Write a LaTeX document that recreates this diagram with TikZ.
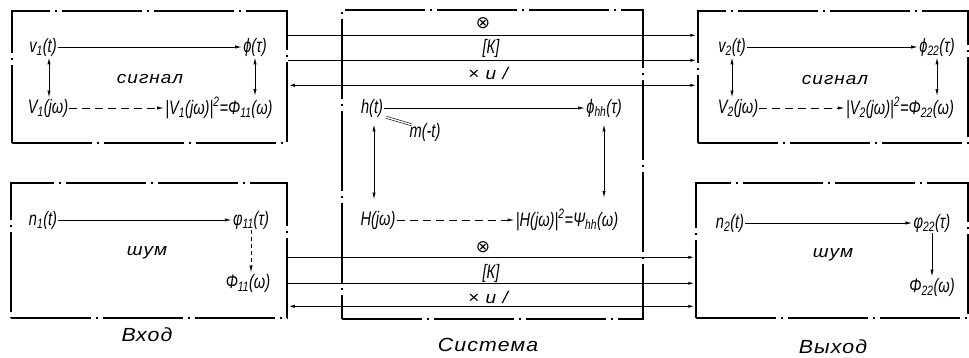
\documentclass[tikz,border=0pt]{standalone}
\usepackage{fontspec}
\setmainfont{Liberation Sans}[FakeStretch=0.75]
\newfontfamily\capfont{Liberation Sans}[FakeStretch=1.12, LetterSpace=6]
\newfontfamily\symfont{DejaVu Sans}
\usetikzlibrary{arrows.meta}
\newcommand{\lo}[1]{\textsubscript{#1}}

\begin{document}
\begin{tikzpicture}[x=1pt,y=-1pt,
  every node/.style={font=\fontsize{19.5}{21}\selectfont\itshape, inner sep=1pt},
  frame/.style={draw, line width=1.5pt, dash pattern=on 80pt off 5pt on 2pt off 5pt, inner sep=0pt},
  flow/.style={-{Latex[length=7pt,width=3.2pt]}, line width=0.9pt},
  both/.style={{Latex[length=7pt,width=3.2pt]}-{Latex[length=7pt,width=3.2pt]}, line width=0.9pt},
  dflow/.style={flow, dash pattern=on 8pt off 5pt},
  chan/.style={line width=1.3pt},
  wide/.style={font=\capfont\fontsize{17}{19}\selectfont\itshape},
  caption/.style={font=\capfont\fontsize{19}{21}\selectfont\itshape}
]
\useasboundingbox (0,0) rectangle (969,357);

% five dash-dot frames
\node[frame, minimum width=275pt, minimum height=132pt] (inS)  at (149.5,77)  {};
\node[frame, minimum width=276pt, minimum height=135pt] (inN)  at (149,250.5) {};
\node[frame, minimum width=301pt, minimum height=309pt] (sys)  at (492.5,164.5) {};
\node[frame, minimum width=270pt, minimum height=132pt] (outS) at (833,77)   {};
\node[frame, minimum width=272pt, minimum height=135pt] (outN) at (832,250.5) {};

% channels through the system (upper group)
\draw[chan,-{Latex[length=7pt,width=3.2pt]}] ([yshift=-25pt]inS.north east) -- ([yshift=-25pt]outS.north west);
\draw[chan,-{Latex[length=7pt,width=3.2pt]}] ([yshift=-50pt]inS.north east) -- ([yshift=-50pt]outS.north west);
\draw[chan,{Latex[length=7pt,width=3.2pt]}-{Latex[length=7pt,width=3.2pt]}] ([yshift=-75pt]inS.north east) -- ([yshift=-75pt]outS.north west);
\node (xu) at (483,23) {\symfont\fontsize{17}{19}\selectfont ⊗};
\node (ku) at (491,48) {[К]};
\node[wide] (mu) at (488,73) {× и /};

% channels through the system (lower group)
\draw[chan,-{Latex[length=7pt,width=3.2pt]}] ([yshift=-75pt]inN.north east) -- ([yshift=-75pt]outN.north west);
\draw[chan,-{Latex[length=7pt,width=3.2pt]}] ([yshift=-101pt]inN.north east) -- ([yshift=-101pt]outN.north west);
\draw[chan,{Latex[length=7pt,width=3.2pt]}-{Latex[length=7pt,width=3.2pt]}] ([yshift=-124pt]inN.north east) -- ([yshift=-124pt]outN.north west);
\node (xl) at (483,247) {\symfont\fontsize{17}{19}\selectfont ⊗};
\node (kl) at (491,273) {[К]};
\node[wide] (ml) at (488,297) {× и /};

% input signal
\node (v1t) at (43,47) {v\lo{1}(t)};
\node (phit) at (255,47) {ϕ(τ)};
\node (V1) at (48,108) {V\lo{1}(jω)};
\node (S1) at (219,108) {|V\lo{1}(jω)|\textsuperscript{2}=Φ\lo{11}(ω)};
\node[wide] (sg1) at (150,79) {сигнал};
\draw[flow] (v1t) -- (phit);
\draw[dflow] (V1) -- (S1);
\draw[both] ([xshift=6pt]v1t.south) -- ([xshift=6pt]v1t.south |- V1.north);
\draw[both] (phit.south) -- (phit.south |- S1.north);

% input noise
\node (n1t) at (43,220) {n\lo{1}(t)};
\node (ph11) at (251,220) {φ\lo{11}(τ)};
\node (P11) at (248,283) {Φ\lo{11}(ω)};
\node[wide] (sh1) at (147,253) {шум};
\draw[flow] (n1t) -- (ph11);
\draw[flow, dash pattern=on 4pt off 3pt] (ph11.south) -- (ph11.south |- P11.north);

% system
\node (ht) at (372,108) {h(t)};
\node (mt) at (425,132) {m(-t)};
\node (phh) at (604,108) {ϕ\lo{hh}(τ)};
\node (Hj) at (378,220) {H(jω)};
\node (Hsq) at (567,220) {|H(jω)|\textsuperscript{2}=Ψ\lo{hh}(ω)};
\coordinate (eqa) at ([xshift=2pt,yshift=1pt]ht.south east);
\coordinate (eqb) at ([xshift=3pt,yshift=-3pt]mt.north west);
\draw[line width=0.6pt, double, double distance=1.4pt] (eqa) -- (eqb);
\draw[flow] (ht) -- (phh);
\draw[dflow] (Hj) -- (Hsq);
\draw[both, shorten <=6pt, shorten >=10pt] ([xshift=2pt]ht.south) -- ([xshift=2pt]ht.south |- Hj.north);
\draw[both, shorten <=6pt, shorten >=10pt] (phh.south) -- (phh.south |- Hsq.north);

% output signal
\node (v2t) at (732,47) {v\lo{2}(t)};
\node (ph22) at (937,47) {ϕ\lo{22}(τ)};
\node (V2) at (738,108) {V\lo{2}(jω)};
\node (S2) at (900,108) {|V\lo{2}(jω)|\textsuperscript{2}=Φ\lo{22}(ω)};
\node[wide] (sg2) at (835,80) {сигнал};
\draw[flow] (v2t) -- (ph22);
\draw[dflow] (V2) -- (S2);
\draw[both] (v2t.south) -- (v2t.south |- V2.north);
\draw[both] (ph22.south) -- (ph22.south |- S2.north);

% output noise
\node (n2t) at (730,223) {n\lo{2}(t)};
\node (q22) at (932,223) {φ\lo{22}(τ)};
\node (P22) at (932,287) {Φ\lo{22}(ω)};
\node[wide] (sh2) at (833,255) {шум};
\draw[flow] (n2t) -- (q22);
\draw[flow] (q22.south) -- (P22.north);

% captions
\node[caption] (cin) at (147,335) {Вход};
\node[caption] (csys) at (488,345) {Система};
\node[caption] (cout) at (833,347) {Выход};
\end{tikzpicture}
\end{document}
